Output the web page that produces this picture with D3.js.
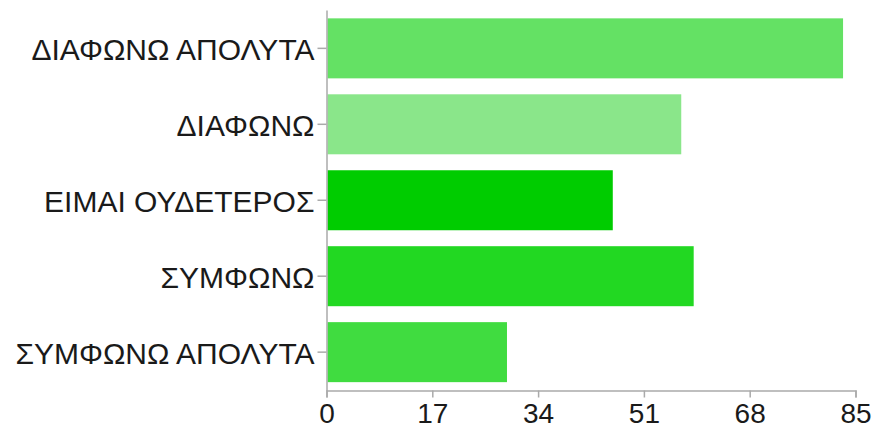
<!DOCTYPE html>
<html>
<head>
<meta charset="utf-8">
<script src="https://cdn.jsdelivr.net/npm/d3@7"></script>
<style>
  body { margin: 0; background: #fff; }
  .axis text { font-family: "Liberation Sans", Arial, sans-serif; font-size: 28px; fill: #1a1a1a; }
  .y-axis text { font-size: 30px; }
  .axis path, .axis line { stroke: #aaa; stroke-width: 1.5px; }
</style>
</head>
<body>
<svg id="chart"></svg>
<script>
const categories = ["ΔΙΑΦΩΝΩ ΑΠΟΛΥΤΑ", "ΔΙΑΦΩΝΩ", "ΕΙΜΑΙ ΟΥΔΕΤΕΡΟΣ", "ΣΥΜΦΩΝΩ", "ΣΥΜΦΩΝΩ ΑΠΟΛΥΤΑ"];
const values = [83, 57, 46, 59, 29];
const barColors = ["#64e164", "#8ae68a", "#00cc00", "#22d822", "#40dc40"];
const xTicks = [0, 17, 34, 51, 68, 85];

const width = 875, height = 431;
const margin = {top: 10, right: 19.5, bottom: 40.5, left: 326.5};
const innerW = width - margin.left - margin.right;
const innerH = height - margin.top - margin.bottom;

const svg = d3.select("#chart").attr("width", width).attr("height", height);
const g = svg.append("g").attr("transform", `translate(${margin.left},${margin.top})`);

const x = d3.scaleLinear().domain([0, 85]).range([0, innerW]);
const y = d3.scaleBand().domain(categories).range([0, innerH])
  .paddingInner(0.21).paddingOuter(0.11);

const data = categories.map((c, i) => ({cat: c, val: values[i], color: barColors[i]}));

// bars
g.selectAll(".bar").data(data).join("rect")
  .attr("class", "bar")
  .attr("x", 1)
  .attr("y", d => y(d.cat))
  .attr("width", d => x(d.val) - 1)
  .attr("height", y.bandwidth())
  .attr("fill", d => d.color);

// axes
g.append("g").attr("class", "axis x-axis")
  .attr("transform", `translate(0,${innerH})`)
  .call(d3.axisBottom(x).tickValues(xTicks).tickSize(7).tickSizeOuter(7).tickPadding(6));

g.append("g").attr("class", "axis y-axis")
  .call(d3.axisLeft(y).tickSize(9).tickSizeOuter(0).tickPadding(3))
  .selectAll("text").attr("dy", "0.38em");
</script>
</body>
</html>
